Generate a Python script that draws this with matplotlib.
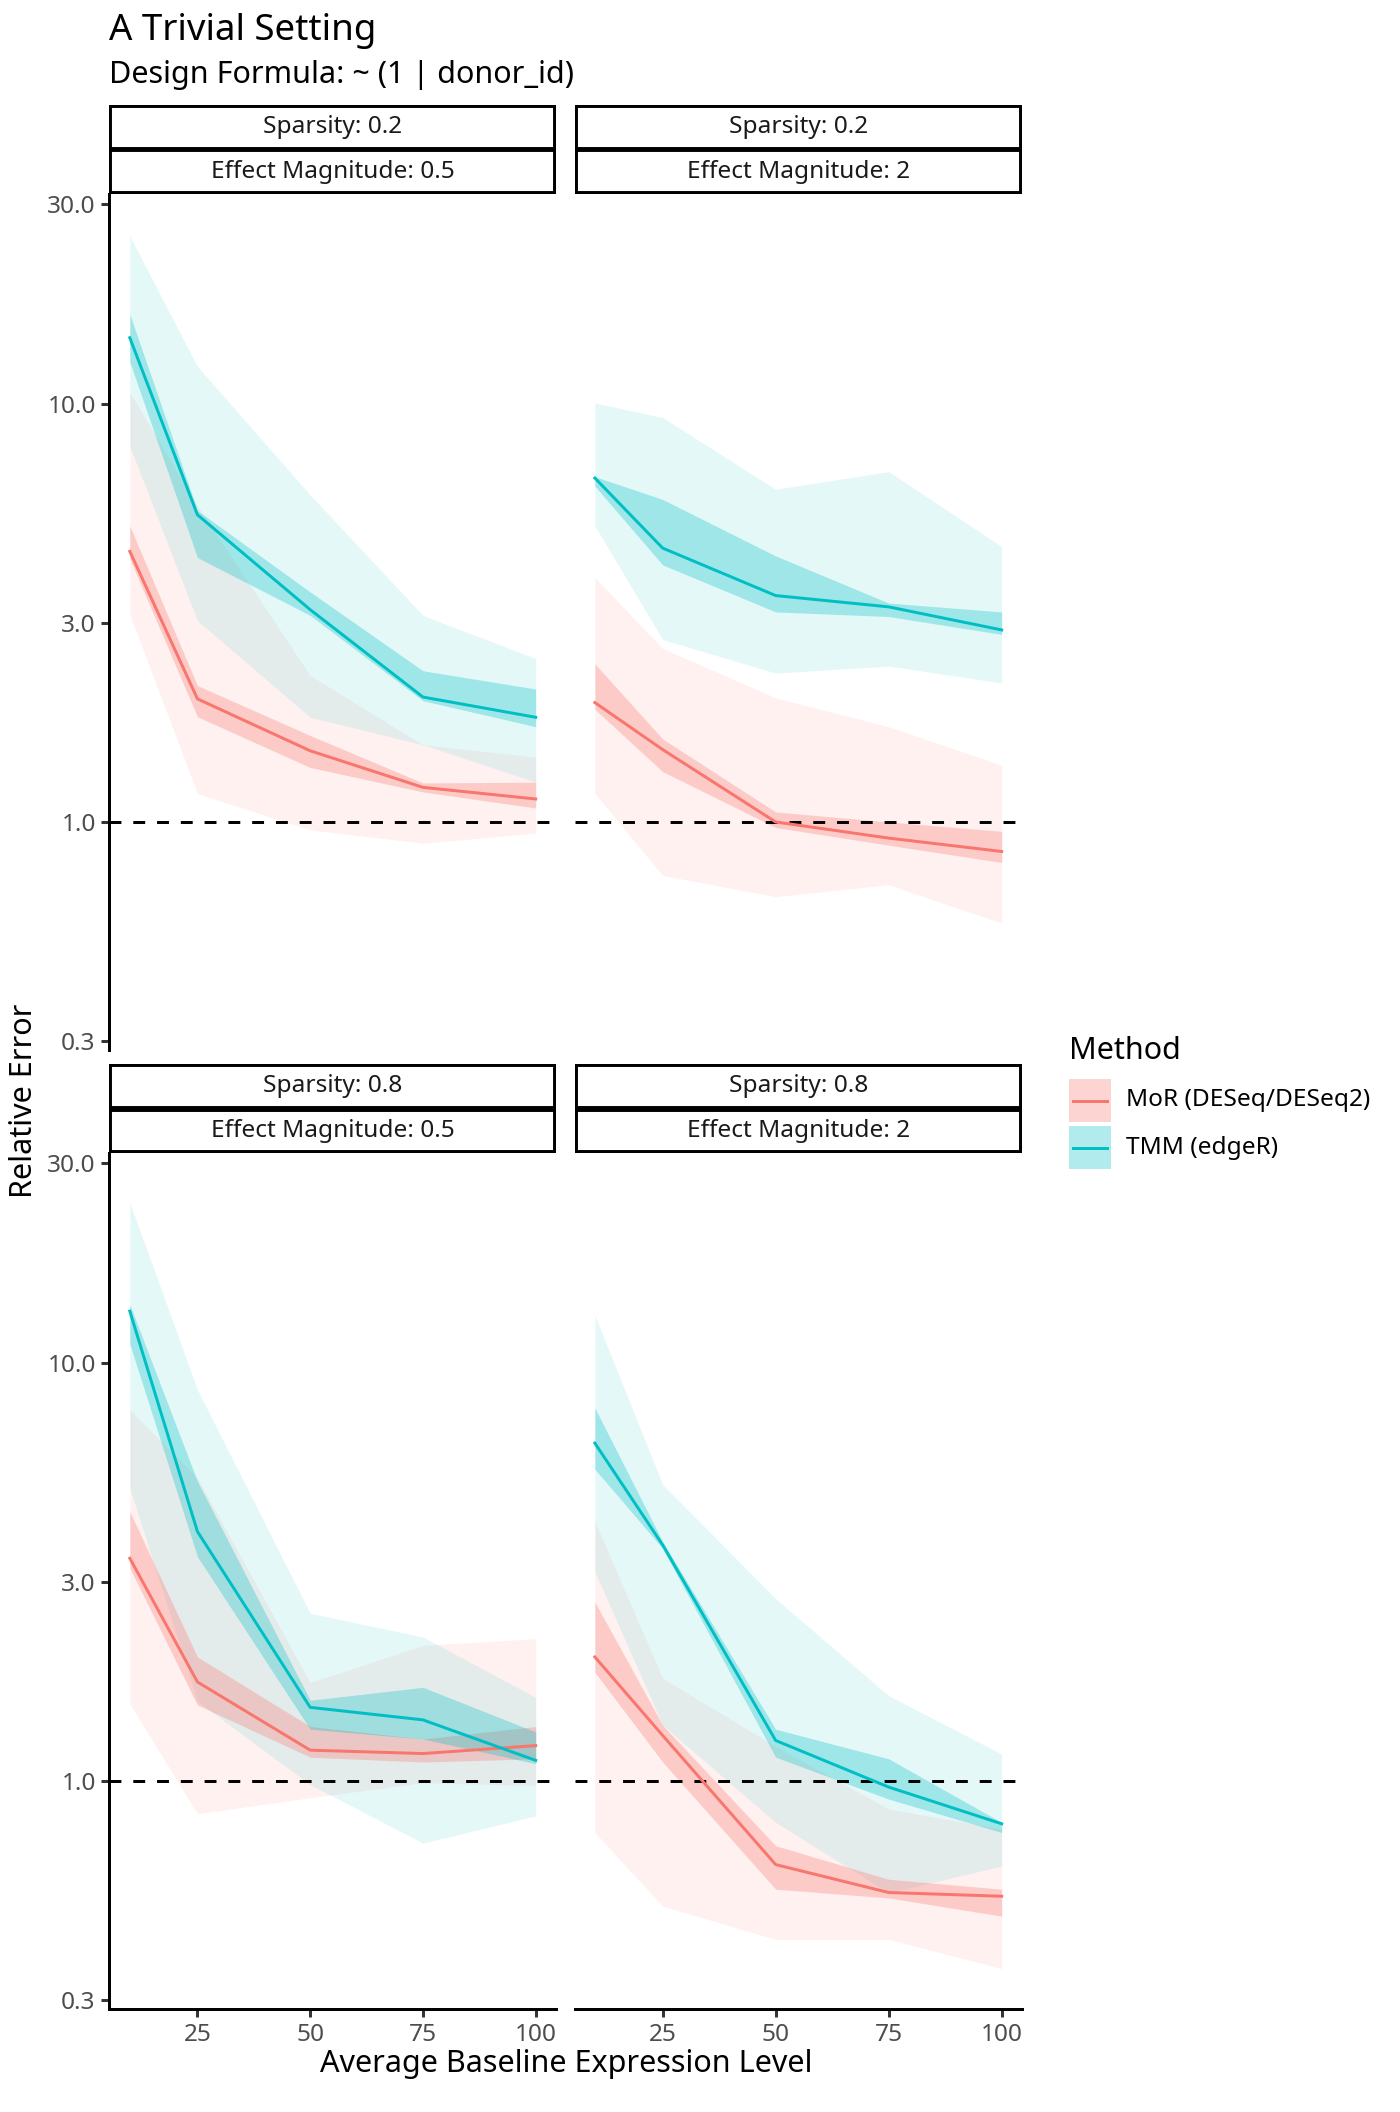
import matplotlib
matplotlib.use("Agg")
import matplotlib.pyplot as plt
from matplotlib.patches import Rectangle
from matplotlib.lines import Line2D

plt.rcParams['font.family'] = ['Noto Sans', 'DejaVu Sans']

# ---------------- data ----------------
x_levels = [10, 25, 50, 75, 100]
methods = ["MoR (DESeq/DESeq2)", "TMM (edgeR)"]
method_colors = ["#F8766D", "#00BFC4"]
sparsity_labels = ["Sparsity: 0.2", "Sparsity: 0.2", "Sparsity: 0.8", "Sparsity: 0.8"]
effect_labels = ["Effect Magnitude: 0.5", "Effect Magnitude: 2", "Effect Magnitude: 0.5", "Effect Magnitude: 2"]
y_ticks = [0.3, 1, 3, 10, 30]
y_tick_labels = ["0.3", "1.0", "3.0", "10.0", "30.0"]
x_ticks = [25, 50, 75, 100]

# panel: Sparsity 0.2, Effect 0.5
mor_s02_e05 = dict(med=[4.44, 1.97, 1.48, 1.21, 1.135],
                   in_lo=[4.26, 1.785, 1.35, 1.18, 1.08],
                   in_hi=[5.11, 2.12, 1.61, 1.24, 1.245],
                   out_lo=[3.14, 1.17, 0.957, 0.89, 0.94],
                   out_hi=[10.66, 5.70, 2.24, 1.53, 1.43])
tmm_s02_e05 = dict(med=[14.4, 5.43, 3.22, 1.99, 1.78],
                   in_lo=[12.6, 4.29, 3.12, 1.95, 1.69],
                   in_hi=[16.4, 5.56, 3.55, 2.30, 2.08],
                   out_lo=[7.92, 3.03, 1.78, 1.53, 1.245],
                   out_hi=[25.2, 12.3, 6.06, 3.12, 2.46])
# panel: Sparsity 0.2, Effect 2
mor_s02_e2 = dict(med=[1.93, 1.49, 1.0, 0.915, 0.85],
                  in_lo=[1.86, 1.32, 0.97, 0.88, 0.80],
                  in_hi=[2.39, 1.58, 1.057, 1.0, 0.95],
                  out_lo=[1.17, 0.745, 0.663, 0.708, 0.573],
                  out_hi=[3.84, 2.60, 1.98, 1.69, 1.366])
tmm_s02_e2 = dict(med=[6.65, 4.52, 3.48, 3.27, 2.88],
                  in_lo=[6.36, 4.12, 3.18, 3.10, 2.81],
                  in_hi=[6.7, 5.91, 4.33, 3.34, 3.18],
                  out_lo=[5.11, 2.73, 2.27, 2.36, 2.15],
                  out_hi=[10.05, 9.28, 6.25, 6.89, 4.56])
# panel: Sparsity 0.8, Effect 0.5
mor_s08_e05 = dict(med=[3.41, 1.725, 1.185, 1.163, 1.215],
                   in_lo=[3.23, 1.52, 1.14, 1.11, 1.13],
                   in_hi=[4.41, 1.98, 1.35, 1.26, 1.35],
                   out_lo=[1.53, 0.835, 0.912, 0.99, 0.975],
                   out_hi=[7.73, 5.3, 1.72, 2.11, 2.19])
tmm_s08_e05 = dict(med=[13.3, 3.95, 1.50, 1.40, 1.12],
                   in_lo=[11.1, 3.44, 1.33, 1.26, 1.10],
                   in_hi=[13.8, 5.21, 1.56, 1.675, 1.31],
                   out_lo=[5.02, 1.55, 0.98, 0.71, 0.825],
                   out_hi=[24.2, 8.63, 2.52, 2.21, 1.585])
# panel: Sparsity 0.8, Effect 2
mor_s08_e2 = dict(med=[1.98, 1.285, 0.631, 0.541, 0.53],
                  in_lo=[1.82, 1.11, 0.551, 0.525, 0.475],
                  in_hi=[2.68, 1.36, 0.70, 0.582, 0.551],
                  out_lo=[0.753, 0.502, 0.418, 0.418, 0.356],
                  out_hi=[4.18, 1.76, 1.21, 0.857, 0.767])
tmm_s08_e2 = dict(med=[6.43, 3.67, 1.25, 0.967, 0.79],
                  in_lo=[5.57, 3.6, 1.14, 0.905, 0.753],
                  in_hi=[7.81, 3.74, 1.33, 1.13, 0.796],
                  out_lo=[3.17, 1.36, 0.796, 0.54, 0.626],
                  out_hi=[13.0, 5.12, 2.73, 1.60, 1.16])

panels = [(mor_s02_e05, tmm_s02_e05), (mor_s02_e2, tmm_s02_e2),
          (mor_s08_e05, tmm_s08_e05), (mor_s08_e2, tmm_s08_e2)]

# ---------------- layout ----------------
W, H = 1400, 2112
fig = plt.figure(figsize=(7, 10.56), dpi=200)

def fx(px):
    return px / W

def fy(py):
    return 1 - py / H

LW = 1.07
col_x = [(109.5, 556), (574.5, 1022)]
row_y = [(194, 1050), (1153, 2009)]
strip_h = 44.5
ylim = (0.2848, 31.78)
xlim = (5.5, 104.5)

for i, (mor, tmm) in enumerate(panels):
    r, c = divmod(i, 2)
    x0, x1 = col_x[c]
    y0, y1 = row_y[r]
    ax = fig.add_axes([fx(x0), fy(y1), fx(x1 - x0), (y1 - y0) / H])
    ax.set_yscale('log')
    ax.set_xlim(*xlim)
    ax.set_ylim(*ylim)
    for d, col in zip((mor, tmm), method_colors):
        ax.fill_between(x_levels, d["out_lo"], d["out_hi"], color=col, alpha=0.1, lw=0)
    for d, col in zip((mor, tmm), method_colors):
        ax.fill_between(x_levels, d["in_lo"], d["in_hi"], color=col, alpha=0.3, lw=0)
    ax.axhline(1.0, color='black', lw=LW, ls=(0, (4, 4)))
    for d, col in zip((mor, tmm), method_colors):
        ax.plot(x_levels, d["med"], color=col, lw=LW)

    for s in ('top', 'right'):
        ax.spines[s].set_visible(False)
    ax.spines['left'].set_linewidth(LW)
    ax.spines['bottom'].set_linewidth(LW)
    ax.minorticks_off()
    ax.yaxis.set_minor_locator(matplotlib.ticker.NullLocator())
    ax.set_yticks(y_ticks)
    ax.set_xticks(x_ticks)
    ax.tick_params(axis='both', length=2.75, width=LW,
                   color='#333333', labelcolor='#4D4D4D', labelsize=8.8, pad=2.2)
    if c == 0:
        ax.set_yticklabels(y_tick_labels)
    else:
        ax.spines['left'].set_visible(False)
        ax.tick_params(axis='y', left=False, labelleft=False)
    if r == 0:
        ax.spines['bottom'].set_visible(False)
        ax.tick_params(axis='x', bottom=False, labelbottom=False)
    else:
        ax.set_xticklabels([str(t) for t in x_ticks])

    # strips
    for k, lab in enumerate((sparsity_labels[i], effect_labels[i])):
        sy0 = y0 - strip_h * (2 - k)
        sax = fig.add_axes([fx(x0), fy(sy0 + strip_h), fx(x1 - x0), strip_h / H])
        sax.set_xticks([]); sax.set_yticks([])
        for s in sax.spines.values():
            s.set_visible(False)
        sax.add_patch(Rectangle((0, 0), 1, 1, transform=sax.transAxes, fill=False,
                                lw=2.13, edgecolor='black', clip_on=True))
        sax.text(0.5, 0.5, lab, ha='center', va='center', fontsize=8.8,
                 color='#1A1A1A', transform=sax.transAxes)

# titles
fig.text(fx(109.5), fy(31), "A Trivial Setting", fontsize=13.2, ha='left', va='center')
fig.text(fx(109.5), fy(75), "Design Formula: ~ (1 | donor_id)", fontsize=11, ha='left', va='center')
fig.text(fx(24), fy(1101), "Relative Error", fontsize=11, rotation=90, ha='center', va='center')
fig.text(fx(566), fy(2064), "Average Baseline Expression Level", fontsize=11, ha='center', va='center')

# legend
fig.text(fx(1069), fy(1051), "Method", fontsize=11, ha='left', va='center')
key_y = [(1079, 1122), (1126, 1169)]
for (ky0, ky1), lab, col in zip(key_y, methods, method_colors):
    fig.patches.append(Rectangle((fx(1069), fy(ky1)), fx(1111 - 1069), (ky1 - ky0) / H,
                                 transform=fig.transFigure, facecolor=col, alpha=0.3,
                                 edgecolor='none', figure=fig))
    ym = fy((ky0 + ky1) / 2)
    fig.lines.append(Line2D([fx(1073), fx(1107)], [ym, ym], transform=fig.transFigure,
                            color=col, lw=LW, figure=fig))
    fig.text(fx(1126), ym, lab, fontsize=8.8, ha='left', va='center')

fig.savefig("out.png", dpi=200)
